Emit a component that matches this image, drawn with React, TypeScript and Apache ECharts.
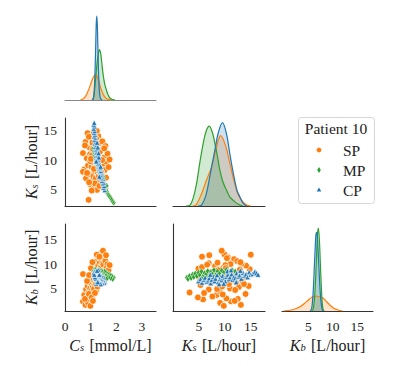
import React, { useEffect, useRef } from "react";
import * as echarts from "echarts";

// [Cs, Ks, Kb] per sample
const spData: number[][] = [
  [0.70, 11.2, 2.5], [0.75, 8.4, 3.8], [0.80, 13.1, 1.8], [0.82, 6.9, 4.9], [0.85, 10.3, 3.1],
  [0.88, 14.6, 5.6], [0.90, 9.1, 2.2], [0.92, 3.2, 4.3], [0.95, 12.2, 6.3], [0.96, 7.6, 3.5],
  [0.98, 11.0, 5.1], [1.00, 5.8, 2.9], [1.02, 13.9, 7.4], [1.03, 8.9, 4.6], [1.05, 10.8, 6.0],
  [1.06, 6.4, 8.2], [1.08, 12.7, 5.4], [1.10, 9.6, 3.9], [1.11, 7.2, 6.8], [1.12, 14.8, 9.0],
  [1.14, 11.6, 7.9], [1.15, 5.3, 5.8], [1.16, 8.1, 9.6], [1.18, 13.4, 6.5], [1.19, 10.0, 8.6],
  [1.20, 6.9, 10.2], [1.22, 12.0, 4.8], [1.23, 9.3, 7.1], [1.25, 4.9, 9.1], [1.26, 11.3, 10.8],
  [1.28, 7.9, 8.0], [1.30, 14.1, 9.7], [1.31, 10.6, 11.4], [1.33, 6.1, 7.6], [1.35, 12.9, 8.9],
  [1.36, 8.6, 10.3], [1.38, 9.9, 12.0], [1.40, 5.6, 9.4], [1.42, 11.8, 11.0], [1.44, 7.4, 8.4],
  [1.46, 13.2, 10.1], [1.48, 9.4, 12.7], [1.50, 6.6, 9.9], [1.52, 10.4, 11.2], [1.55, 8.3, 8.7],
  [1.58, 12.4, 10.6], [1.60, 7.0, 11.8], [1.62, 9.7, 9.3], [1.66, 11.1, 10.0], [1.70, 8.8, 8.8],
  [1.74, 10.1, 9.8], [0.70, 8.0, 8.0], [0.78, 12.5, 3.0], [0.86, 7.8, 6.6], [0.93, 14.0, 4.0],
  [0.99, 9.8, 1.6], [1.04, 4.8, 3.3], [1.09, 11.9, 2.6], [1.13, 8.5, 5.0], [1.17, 6.0, 4.2],
  [1.21, 13.7, 6.0], [1.27, 9.5, 5.5], [1.32, 7.3, 6.2], [1.37, 11.5, 7.0], [1.41, 8.0, 6.7],
  [1.45, 10.0, 7.5], [1.53, 12.0, 7.8], [1.57, 5.2, 7.2], [1.24, 15.0, 11.9], [1.01, 10.2, 9.2],
  [0.94, 6.2, 7.8], [1.07, 13.0, 10.4], [1.34, 5.6, 11.5],
];

const mpData: number[][] = [
  [1.90, 2.7, 7.3], [1.86, 2.9, 7.0], [1.82, 3.2, 7.6], [1.78, 3.5, 7.2], [1.74, 3.8, 7.9],
  [1.70, 4.0, 7.4], [1.66, 4.3, 8.1], [1.63, 4.6, 7.6], [1.60, 4.9, 8.3], [1.57, 5.2, 7.8],
  [1.54, 5.5, 8.5], [1.51, 5.8, 7.5], [1.48, 6.1, 8.2], [1.45, 6.4, 7.9], [1.43, 6.7, 8.6],
  [1.40, 7.0, 7.7], [1.38, 7.3, 8.4], [1.35, 7.6, 8.0], [1.33, 7.9, 8.8], [1.31, 8.2, 7.8],
  [1.28, 8.6, 8.5], [1.25, 9.0, 8.1], [1.23, 9.4, 8.7], [1.20, 9.8, 8.3], [1.18, 10.3, 8.9],
  [1.15, 10.8, 8.4], [1.13, 11.4, 8.8], [1.11, 12.0, 8.5], [1.52, 6.9, 7.3], [1.62, 5.6, 7.0],
  [1.42, 8.0, 7.4],
];

const cpData: number[][] = [
  [1.55, 4.9, 6.6], [1.50, 5.3, 7.0], [1.53, 5.6, 6.3], [1.47, 6.0, 6.9], [1.51, 6.2, 7.3],
  [1.44, 6.5, 6.5], [1.48, 6.8, 6.8], [1.41, 7.0, 7.2], [1.45, 7.3, 6.2], [1.39, 7.5, 6.9],
  [1.43, 7.8, 7.5], [1.36, 8.0, 6.6], [1.40, 8.2, 7.1], [1.33, 8.5, 7.8], [1.37, 8.7, 6.4],
  [1.31, 9.0, 7.0], [1.35, 9.2, 7.4], [1.28, 9.4, 6.8], [1.33, 9.6, 7.7], [1.26, 9.9, 7.2],
  [1.30, 10.1, 6.6], [1.24, 10.3, 7.5], [1.29, 10.6, 7.9], [1.22, 10.8, 7.0], [1.27, 11.0, 7.4],
  [1.21, 11.3, 8.0], [1.25, 11.5, 6.9], [1.19, 11.8, 7.6], [1.24, 12.0, 7.2], [1.18, 12.3, 8.2],
  [1.22, 12.6, 7.5], [1.16, 12.9, 7.8], [1.20, 13.2, 7.1], [1.15, 13.5, 8.3], [1.19, 13.8, 7.7],
  [1.14, 14.1, 8.0], [1.17, 14.4, 7.4], [1.13, 14.7, 8.4], [1.16, 15.0, 7.9], [1.12, 15.4, 8.1],
  [1.15, 15.8, 8.5], [1.12, 16.1, 8.2], [1.14, 16.4, 7.9], [1.39, 8.9, 6.0], [1.32, 10.5, 8.6],
  [1.22, 9.8, 6.1], [1.31, 11.2, 8.8], [1.28, 12.2, 6.4], [1.34, 7.2, 7.9], [1.25, 13.0, 8.7],
];

// KDE curves: [value, density]
const csKdeSP = [[0.6, 0], [0.7, 0.1], [0.8, 0.35], [0.9, 0.85], [1.0, 1.5], [1.08, 2.05], [1.15, 2.35], [1.2, 2.4], [1.26, 2.2], [1.33, 1.7], [1.4, 1.1], [1.48, 0.6], [1.56, 0.28], [1.65, 0.1], [1.78, 0.02], [1.85, 0]];
const csKdeMP = [[1.08, 0], [1.13, 0.4], [1.19, 1.9], [1.25, 3.5], [1.3, 4.4], [1.35, 4.8], [1.4, 4.3], [1.45, 3.2], [1.5, 2.2], [1.56, 1.4], [1.61, 1.0], [1.67, 0.55], [1.75, 0.2], [1.85, 0.05], [1.95, 0]];
const csKdeCP = [[1.05, 0], [1.1, 0.1], [1.14, 0.9], [1.17, 2.6], [1.2, 5.4], [1.22, 7.3], [1.24, 8.0], [1.26, 7.2], [1.28, 5.3], [1.31, 2.6], [1.34, 0.9], [1.38, 0.15], [1.45, 0]];

const ksKdeSP = [[3.8, 0], [4.5, 0.003], [5.5, 0.025], [6.47, 0.053], [7.44, 0.08], [8.4, 0.121], [9.2, 0.1435], [10.2, 0.121], [10.96, 0.087], [11.9, 0.046], [12.5, 0.025], [13.2, 0.012], [14.2, 0.002], [15, 0]];
const ksKdeMP = [[2.5, 0], [3.3, 0.002], [4.0, 0.02], [4.55, 0.046], [5.2, 0.09], [5.83, 0.128], [6.4, 0.153], [7.0, 0.163], [7.6, 0.15], [8.08, 0.128], [8.6, 0.1], [9.04, 0.073], [9.6, 0.05], [10.3, 0.033], [11.0, 0.018], [11.9, 0.009], [12.7, 0.003], [13.5, 0]];
const ksKdeCP = [[4.8, 0], [5.5, 0.002], [6.3, 0.02], [7.1, 0.06], [7.6, 0.088], [8.08, 0.114], [8.7, 0.148], [9.55, 0.17], [10.3, 0.148], [10.96, 0.107], [11.4, 0.08], [11.9, 0.053], [12.4, 0.03], [12.9, 0.019], [13.5, 0.006], [14.2, 0]];

const kbKdeSP = [[0, 0], [1.5, 0.01], [2.5, 0.025], [3.3, 0.043], [4.2, 0.075], [5.0, 0.11], [5.8, 0.14], [6.57, 0.15], [7.3, 0.143], [8.06, 0.127], [8.7, 0.095], [9.4, 0.06], [10.2, 0.028], [11.1, 0.01], [12, 0]];
const kbKdeMP = [[5.7, 0], [6.0, 0.02], [6.3, 0.15], [6.6, 0.45], [6.85, 0.75], [7.04, 0.83], [7.25, 0.72], [7.5, 0.42], [7.75, 0.15], [7.95, 0.03], [8.2, 0]];
const kbKdeCP = [[5.4, 0], [5.7, 0.03], [6.0, 0.2], [6.3, 0.52], [6.55, 0.76], [6.71, 0.787], [6.9, 0.7], [7.15, 0.45], [7.45, 0.17], [7.75, 0.03], [8.0, 0]];

const csTicks = [0, 1, 2, 3];
const ksTicks = [5, 10, 15];
const kbTicks = [5, 10, 15];

const groups = ["SP", "MP", "CP"];
const colors = ["#ff7f0e", "#2ca02c", "#1f77b4"];

const FONT = "Liberation Serif, serif";
const TXT = "#222";

const rich = {
  i: { fontFamily: FONT, fontSize: 16, fontStyle: "italic", color: TXT, lineHeight: 18, verticalAlign: "bottom" },
  s: { fontFamily: FONT, fontSize: 10.5, fontStyle: "italic", color: TXT, lineHeight: 14, verticalAlign: "bottom", padding: [0, 2, 0, 0] },
  n: { fontFamily: FONT, fontSize: 16, color: TXT, lineHeight: 18, verticalAlign: "bottom" },
};

function axisBase(gridIndex: number, min: number, max: number, extra: any = {}) {
  return {
    type: "value",
    gridIndex,
    min,
    max,
    splitLine: { show: false },
    axisTick: { show: false },
    axisLine: { show: true, onZero: false, lineStyle: { color: "#333", width: 1.1 } },
    axisLabel: { show: false },
    ...extra,
  };
}

function tickLabels(values: number[]) {
  return {
    show: true,
    customValues: values,
    fontFamily: FONT,
    fontSize: 13.5,
    color: TXT,
    margin: 8,
  };
}

export default function App() {
  const ref = useRef<HTMLDivElement>(null);
  useEffect(() => {
    if (!ref.current) return;
    const chart = echarts.init(ref.current, null, { renderer: "svg" });
    const datasets = [spData, mpData, cpData];
    const symbols = [
      { symbol: "circle", symbolSize: 6.8, borderWidth: 0.8 },
      { symbol: "diamond", symbolSize: [4.5, 6.5], borderWidth: 0.5 },
      { symbol: "triangle", symbolSize: 5.5, borderWidth: 0.6 },
    ];
    const series: any[] = [];
    const kde = (data: number[][], i: number, xi: number) => ({
      type: "line",
      name: groups[i],
      xAxisIndex: xi,
      yAxisIndex: xi,
      data,
      smooth: 0.35,
      showSymbol: false,
      lineStyle: { color: colors[i], width: 1.2 },
      areaStyle: { color: colors[i], opacity: 0.22 },
      silent: true,
    });
    const sc = (i: number, a: number, b: number, idx: number) => ({
      type: "scatter",
      name: groups[i],
      xAxisIndex: idx,
      yAxisIndex: idx,
      data: datasets[i].map((r) => [r[a], r[b]]),
      symbol: symbols[i].symbol,
      symbolSize: symbols[i].symbolSize,
      itemStyle: { color: colors[i], borderColor: "#fff", borderWidth: symbols[i].borderWidth, opacity: 1 },
    });
    [csKdeSP, csKdeMP, csKdeCP].forEach((d, i) => series.push(kde(d, i, 0)));
    [0, 1, 2].forEach((i) => series.push(sc(i, 0, 1, 1)));
    [ksKdeSP, ksKdeMP, ksKdeCP].forEach((d, i) => series.push(kde(d, i, 2)));
    [0, 1, 2].forEach((i) => series.push(sc(i, 0, 2, 3)));
    [0, 1, 2].forEach((i) => series.push(sc(i, 1, 2, 4)));
    [kbKdeSP, kbKdeMP, kbKdeCP].forEach((d, i) => series.push(kde(d, i, 5)));

    const legendText = { fontFamily: FONT, fontSize: 15.5, fill: TXT };
    const option: any = {
      animation: false,
      backgroundColor: "#fff",
      grid: [
        { left: 65, top: 12, width: 91, height: 88 },
        { left: 65, top: 118, width: 91, height: 88 },
        { left: 173, top: 118, width: 92, height: 88 },
        { left: 65, top: 224, width: 91, height: 87 },
        { left: 173, top: 224, width: 92, height: 87 },
        { left: 282, top: 224, width: 91, height: 87 },
      ],
      xAxis: [
        axisBase(0, 0, 3.55, { axisLine: { show: true, onZero: false, lineStyle: { color: "#888", width: 1.1 } } }),
        axisBase(1, 0, 3.55),
        axisBase(2, 0, 17.75),
        axisBase(3, 0, 3.55, {
          axisLabel: tickLabels(csTicks),
          name: "{i|C}{s|s} {n|[mmol/L]}",
          nameLocation: "middle",
          nameGap: 24,
          nameTextStyle: { rich },
        }),
        axisBase(4, 0, 17.75, {
          axisLabel: tickLabels(ksTicks),
          name: "{i|K}{s|s} {n|[L/hour]}",
          nameLocation: "middle",
          nameGap: 24,
          nameTextStyle: { rich },
        }),
        axisBase(5, -0.37, 18.2, {
          axisLabel: tickLabels(kbTicks),
          name: "{i|K}{s|b} {n|[L/hour]}",
          nameLocation: "middle",
          nameGap: 24,
          nameTextStyle: { rich },
        }),
      ],
      yAxis: [
        axisBase(0, 0, 8.38, { show: false }),
        axisBase(1, 2.15, 17.2, {
          axisLabel: tickLabels(ksTicks),
          name: "{i|K}{s|s} {n|[L/hour]}",
          nameLocation: "middle",
          nameGap: 24,
          nameTextStyle: { rich },
        }),
        axisBase(2, 0, 0.1796, { show: false }),
        axisBase(3, 0.57, 18.08, {
          axisLabel: tickLabels(kbTicks),
          name: "{i|K}{s|b} {n|[L/hour]}",
          nameLocation: "middle",
          nameGap: 24,
          nameTextStyle: { rich },
        }),
        axisBase(4, 0.57, 18.08),
        axisBase(5, 0, 0.87, { show: false }),
      ],
      series,
      graphic: [
        {
          type: "rect",
          shape: { x: 298.5, y: 117.5, width: 76, height: 86, r: 3 },
          style: { fill: "#fff", stroke: "#d6d6d6", lineWidth: 1 },
          z: 10,
        },
        {
          type: "text",
          x: 336,
          y: 128,
          z: 11,
          style: { text: "Patient 10", ...legendText, align: "center", verticalAlign: "middle" },
        },
        { type: "circle", z: 11, shape: { cx: 319, cy: 150, r: 2.4 }, style: { fill: colors[0] } },
        { type: "polygon", z: 11, shape: { points: [[319, 167], [320.8, 170], [319, 173], [317.2, 170]] }, style: { fill: colors[1] } },
        { type: "polygon", z: 11, shape: { points: [[319, 187.5], [321.3, 191.5], [316.7, 191.5]] }, style: { fill: colors[2] } },
        ...groups.map((g, i) => ({
          type: "text",
          x: 343,
          y: 150 + i * 20,
          z: 11,
          style: { text: g, ...legendText, align: "left", verticalAlign: "middle" },
        })),
      ],
    };
    chart.setOption(option);
    return () => chart.dispose();
  }, []);
  return (
    <div
      ref={ref}
      style={{ position: "fixed", left: 0, top: 0, width: 415, height: 366, background: "#fff" }}
    />
  );
}
